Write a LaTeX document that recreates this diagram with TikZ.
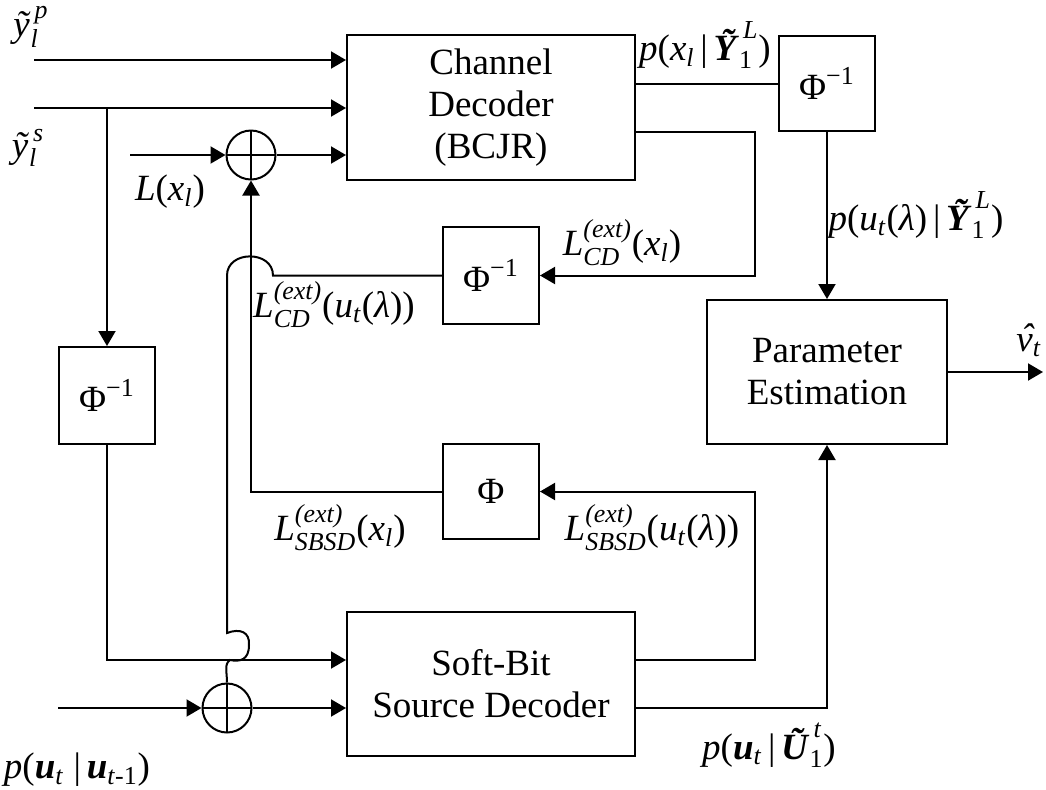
\documentclass[tikz,border=0pt]{standalone}
\usepackage{amsmath}
\usepackage{fontspec}
\setmainfont{Liberation Serif}
\usetikzlibrary{arrows.meta}
% text-font pieces for formulas
\newcommand\Ti[1]{\text{\itshape #1\/}}
\newcommand\Tr[1]{\text{\upshape #1}}
\newcommand\Tb[1]{\text{\bfseries\itshape #1\/}}
\newcommand\bigfont{\fontsize{18.5}{21}\selectfont}
\begin{document}
\begin{tikzpicture}[x=0.5pt,y=-0.5pt,font=\bigfont,
  blk/.style={draw,line width=1pt,inner sep=0pt,align=center},
  sum/.style={draw,line width=1pt,circle,minimum size=24.5pt,inner sep=0pt,
    path picture={\draw[line width=1pt]
      (path picture bounding box.north) -- (path picture bounding box.south)
      (path picture bounding box.west) -- (path picture bounding box.east);}},
  wire/.style={line width=1pt},
  arr/.style={wire,-{Triangle[length=7.5pt,width=8.5pt]}},
  lbl/.style={inner sep=0pt}]
\useasboundingbox (0,0) rectangle (1046,789);

% blocks
\node[blk,minimum width=144pt,minimum height=72.5pt] (cd) at (491,107.5) {Channel\\Decoder\\(BCJR)};
\node[blk,minimum width=48pt,minimum height=47.5pt] (phiA) at (827,83.5) {$\Tr{Φ}^{\Tr{−1}}$};
\node[blk,minimum width=48pt,minimum height=48.5pt] (phiB) at (491,275.5) {$\Tr{Φ}^{\Tr{−1}}$};
\node[blk,minimum width=48pt,minimum height=48.5pt] (phiL) at (107,395.5) {$\Tr{Φ}^{\Tr{−1}}$};
\node[blk,minimum width=48pt,minimum height=47.5pt] (phiC) at (491,491.5) {$\Tr{Φ}$};
\node[blk,minimum width=120pt,minimum height=72pt] (pe) at (827,372) {Parameter\\Estimation};
\node[blk,minimum width=144pt,minimum height=72pt] (sbsd) at (491,684) {Soft-Bit\\Source Decoder};
\node[sum] (s1) at (251,155) {};
\node[sum] (s2) at (227,708) {};

% free ends and corners
\coordinate (inP) at (34,60);
\coordinate (inS) at (34,108);
\coordinate (inL) at (130,155);
\coordinate (inU) at (58,708);
\coordinate (brS) at (107,108);
\coordinate (out) at (1043,372);
\coordinate (rA) at (755,132);
\coordinate (rB) at (755,660);
\coordinate (rC) at (827,708);

% channel decoder inputs
\draw[arr] (inP) -- (inP -| cd.west);
\draw[arr] (inS) -- (inS -| cd.west);
\draw[arr] (inL) -- (s1.west);
\draw[arr] (s1.east) -- (s1.east -| cd.west);
\draw[arr] (brS) -- (phiL.north);
\draw[arr] (phiL.south) |- (sbsd.west |- 0,660);

% source decoder inputs
\draw[arr] (inU) -- (s2.west);
\draw[arr] (s2.east) -- (sbsd.west |- s2.east);

% channel decoder outputs
\draw[wire] (cd.east |- phiA.west) -- (phiA.west);
\draw[arr] (cd.east |- rA) -- (rA) |- (phiB.east);
\draw[arr] (phiA.south) -- (pe.north);

% source decoder outputs
\draw[arr] (sbsd.east |- rB) -- (rB) |- (phiC.east);
\draw[arr] (sbsd.east |- rC) -| (pe.south);
\draw[arr] (pe.east) -- (out);

% feedback paths
\draw[arr] (phiC.west) -| (s1.south);
\draw[wire] (phiB.west) -- (273,275.5)
  .. controls (273,250) and (227,250) .. (227,275.5) -- (227,633)
  .. controls (240,628) and (250,632) .. (249,645)
  .. controls (249,660) and (240,662) .. (230,660)
  .. controls (224,664) and (227,672) .. (s2.north);

% labels
\node[lbl] (lYp) at (31,27) {$\Ti{ỹ}_{\Ti{l}}^{\,\Ti{p}}$};
\node[lbl] (lYs) at (28,148) {$\Ti{ỹ}_{\Ti{l}}^{\,\Ti{s}}$};
\node[lbl] (lL) at (170,192) {$\Ti{L}\Tr{(}\Ti{x}_{\Ti{l}}\Tr{)}$};
\node[lbl] (lPx) at (705,45) {$\Ti{p}\Tr{(}\Ti{x}_{\Ti{l}}\,\Tr{|}\,\Tb{Ỹ}_{\Tr{1}}^{\,\Ti{L}}\Tr{)}$};
\node[lbl] (lPu) at (916,215) {$\Ti{p}\Tr{(}\Ti{u}_{\Ti{t}}\Tr{(}\Ti{λ}\Tr{)}\,\Tr{|}\,\Tb{Ỹ}_{\Tr{1}}^{\,\Ti{L}}\Tr{)}$};
\node[lbl] (lCDx) at (622,243) {$\Ti{L}_{\Ti{CD}}^{\Ti{(ext)}}\Tr{(}\Ti{x}_{\Ti{l}}\Tr{)}$};
\node[lbl] (lCDu) at (334,305) {$\Ti{L}_{\Ti{CD}}^{\Ti{(ext)}}\Tr{(}\Ti{u}_{\Ti{t}}\Tr{(}\Ti{λ}\Tr{))}$};
\node[lbl] (lSx) at (340,528) {$\Ti{L}_{\Ti{SBSD}}^{\Ti{(ext)}}\Tr{(}\Ti{x}_{\Ti{l}}\Tr{)}$};
\node[lbl] (lSu) at (652,528) {$\Ti{L}_{\Ti{SBSD}}^{\Ti{(ext)}}\Tr{(}\Ti{u}_{\Ti{t}}\Tr{(}\Ti{λ}\Tr{))}$};
\node[lbl] (lPU) at (769,745) {$\Ti{p}\Tr{(}\Tb{u}_{\Ti{t}}\,\Tr{|}\,\Tb{Ũ}_{\Tr{1}}^{\,\Ti{t}}\Tr{)}$};
\node[lbl] (lPuu) at (77,770) {$\Ti{p}\Tr{(}\Tb{u}_{\Ti{t}}\;\Tr{|}\,\Tb{u}_{\Ti{t}\Tr{-1}}\Tr{)}$};
\node[lbl] (lv) at (1029,340) {$\Ti{\rlap{\hspace{0.12em}\raisebox{0.05em}{ˆ}}v}_{\Ti{t}}$};
\end{tikzpicture}
\end{document}
